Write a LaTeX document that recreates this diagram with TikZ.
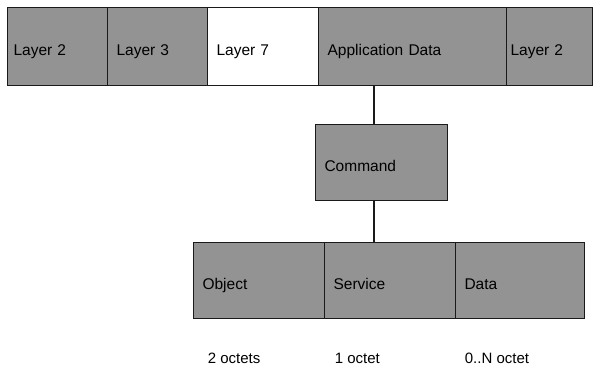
\documentclass[tikz,border=0pt]{standalone}
\usepackage{fontspec}
\setmainfont{Liberation Sans}
\usetikzlibrary{positioning}
\definecolor{ink}{HTML}{1A1A1A}
\definecolor{shade}{HTML}{939393}

\begin{document}
\begin{tikzpicture}[x=1pt,y=-1pt,line width=1.1pt,
    cell/.style={draw=ink,fill=shade,anchor=north west,align=left,
                 inner xsep=9pt,inner ysep=0pt,text height=17pt,text depth=0pt,
                 font=\fontsize{15.5}{18}\selectfont},
    size/.style={anchor=west,font=\fontsize{15}{18}\selectfont}]
  \useasboundingbox (0,0) rectangle (596,372);

  % frame
  \node[cell,minimum height=78pt,text width=88pt,inner xsep=6pt] (l2a) at (7,7) {Layer 2};
  \node[cell,minimum height=78pt,text width=82pt] (l3) at (107,7) {Layer 3};
  \node[cell,minimum height=78pt,text width=93pt,fill=white] (l7) at (207,7) {Layer 7};
  \node[cell,minimum height=78pt,text width=170pt] (appdata) at (318,7) {Application Data};
  \node[cell,minimum height=78pt,text width=78pt,inner xsep=4pt] (l2b) at (506,7) {Layer 2};

  % command
  \node[cell,minimum height=76pt,text width=114pt] (cmd) at (315,124) {Command};

  % fields
  \node[cell,minimum height=76pt,text width=113pt] (obj) at (193,242) {Object};
  \node[cell,minimum height=76pt,text width=113pt] (svc) at (324,242) {Service};
  \node[cell,minimum height=76pt,text width=111pt] (data) at (455,242) {Data};

  \coordinate (tap) at (374,0);
  \draw[ink] (tap |- appdata.south) -- (tap |- cmd.north);
  \draw[ink] (tap |- cmd.south) -- (tap |- svc.north);

  % sizes
  \node[size] (szobj) at (204,358) {2 octets};
  \node[size] (szsvc) at (331,358) {1 octet};
  \node[size] (szdata) at (461,358) {0..N octet};
\end{tikzpicture}
\end{document}
